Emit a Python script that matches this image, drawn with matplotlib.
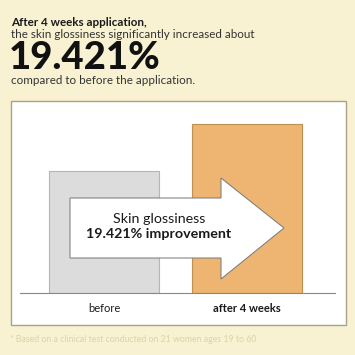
import matplotlib.pyplot as plt
from matplotlib.patches import Rectangle, Polygon

BG = '#F8F2D2'; INK = '#1A1A1A'; GRAY = '#DCDCDC'; ORANGE = '#EDB571'
FONT = ['Lato', 'DejaVu Sans']

categories = ['before', 'after 4 weeks']
values = [122, 169]          # bar heights as drawn (arbitrary scale)
improvement = '19.421%'

fig = plt.figure(figsize=(3.55, 3.55), dpi=100, facecolor=BG)

# overlay axes in pixel coordinates (y downwards)
ov = fig.add_axes([0, 0, 1, 1]); ov.axis('off')
ov.set_xlim(0, 355); ov.set_ylim(355, 0)

ov.add_patch(Rectangle((11, 101), 335, 224, facecolor='white',
                       edgecolor='#A9A289', lw=1.0, zorder=1))

ov.text(11, 22, 'After 4 weeks application,', fontsize=8.4, fontweight='bold',
        family=FONT, color=INK, va='center')
ov.text(11, 34, 'the skin glossiness significantly increased about', fontsize=8.4,
        family=FONT, color='#333333', va='center')
ov.text(9, 58, improvement, fontsize=27.5, fontweight='black',
        family=FONT, color='#111111', va='center')
ov.text(11, 81, 'compared to before the application.', fontsize=8.4,
        family=FONT, color='#333333', va='center')
ov.text(10, 340, '* Based on a clinical test conducted on 21 women ages 19 to 60',
        fontsize=6.3, family=FONT, color='#DCD3A8', va='center')

# bar axes: baseline at y=293px, left 20px, right 335px
bx = fig.add_axes([20/355, (355-293)/355, 315/355, 193/355])
bx.set_facecolor('none')
bx.bar([0, 1], values, width=0.77, color=[GRAY, ORANGE],
       edgecolor=['#B5B5B5', '#BE9052'], lw=0.8, zorder=2)
bx.set_xlim(-0.587, 1.615); bx.set_ylim(0, 193)
for s in ['top', 'left', 'right']:
    bx.spines[s].set_visible(False)
bx.spines['bottom'].set_color('#888888'); bx.spines['bottom'].set_linewidth(0.8)
bx.set_yticks([])
bx.set_xticks([0, 1])
bx.set_xticklabels(categories, fontsize=8, family=FONT, color=INK)
bx.get_xticklabels()[1].set_fontweight('bold')
bx.tick_params(axis='x', length=0, pad=7)

# arrow on top
ar = fig.add_axes([0, 0, 1, 1]); ar.axis('off')
ar.set_xlim(0, 355); ar.set_ylim(355, 0)
ar.add_patch(Polygon([(70, 198), (221, 198), (221, 178), (284, 228),
                      (221, 279), (221, 258), (70, 258)], closed=True,
                     facecolor='white', edgecolor='#777777', lw=0.7))
ar.text(159, 219, 'Skin glossiness', fontsize=10.3, family=FONT,
        color=INK, ha='center', va='center')
ar.text(159, 234, f'{improvement} improvement', fontsize=10.3, fontweight='bold',
        family=FONT, color=INK, ha='center', va='center')

plt.savefig('out.png', dpi=100, facecolor=BG)
plt.close()
